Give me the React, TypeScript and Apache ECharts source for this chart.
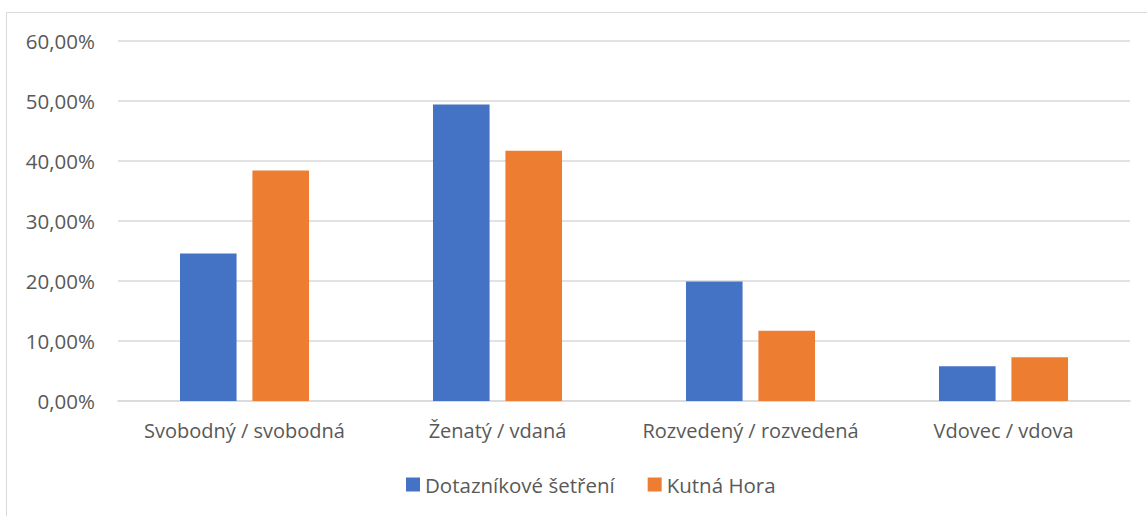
import React, { useEffect, useRef } from "react";
import * as echarts from "echarts";

const categories = ["Svobodný / svobodná", "Ženatý / vdaná", "Rozvedený / rozvedená", "Vdovec / vdova"];
const seriesNames = ["Dotazníkové šetření", "Kutná Hora"];
const survey = [24.6, 49.4, 19.9, 5.8];
const kutnaHora = [38.4, 41.7, 11.7, 7.3];
const yTicks = [0, 10, 20, 30, 40, 50, 60];

const FONT = "'Open Sans', 'Noto Sans', sans-serif";
const TEXT = "#595959";

export default function App() {
  const ref = useRef<HTMLDivElement>(null);
  useEffect(() => {
    if (!ref.current) return;
    const chart = echarts.init(ref.current, null, { renderer: "svg" });
    chart.setOption({
      animation: false,
      backgroundColor: "#ffffff",
      graphic: [
        {
          type: "rect",
          shape: { x: 6.5, y: 12.5, width: 1160, height: 520 },
          style: { fill: "none", stroke: "#d9d9d9", lineWidth: 1 },
          silent: true,
        },
      ],
      legend: {
        data: seriesNames,
        bottom: 16,
        left: 401,
        itemWidth: 14,
        itemHeight: 14,
        itemGap: 33,
        icon: "rect",
        textStyle: { color: TEXT, fontSize: 20.5, fontFamily: FONT },
      },
      grid: { left: 118, right: 17, top: 41, bottom: 115 },
      xAxis: {
        type: "category",
        data: categories,
        axisLine: { lineStyle: { color: "#d9d9d9", width: 1.5 } },
        axisTick: { show: false },
        axisLabel: { color: TEXT, fontSize: 20, fontFamily: FONT, margin: 19, interval: 0, hideOverlap: false },
      },
      yAxis: {
        type: "value",
        min: yTicks[0],
        max: yTicks[yTicks.length - 1],
        interval: 10,
        axisLine: { show: false },
        axisTick: { show: false },
        splitLine: { lineStyle: { color: "#d9d9d9", width: 1.5 } },
        axisLabel: {
          color: TEXT,
          fontSize: 20.5,
          fontFamily: FONT,
          margin: 23,
          formatter: (v: number) => v.toFixed(2).replace(".", ",") + "%",
        },
      },
      series: [
        {
          name: seriesNames[0],
          type: "bar",
          data: survey,
          barGap: "28%",
          barCategoryGap: "49%",
          itemStyle: { color: "#4472c4" },
        },
        {
          name: seriesNames[1],
          type: "bar",
          data: kutnaHora,
          barGap: "28%",
          barCategoryGap: "49%",
          itemStyle: { color: "#ed7d31" },
        },
      ],
    });
    return () => chart.dispose();
  }, []);
  return (
    <div
      ref={ref}
      style={{ position: "absolute", left: 0, top: 0, width: 1147, height: 516 }}
    />
  );
}
